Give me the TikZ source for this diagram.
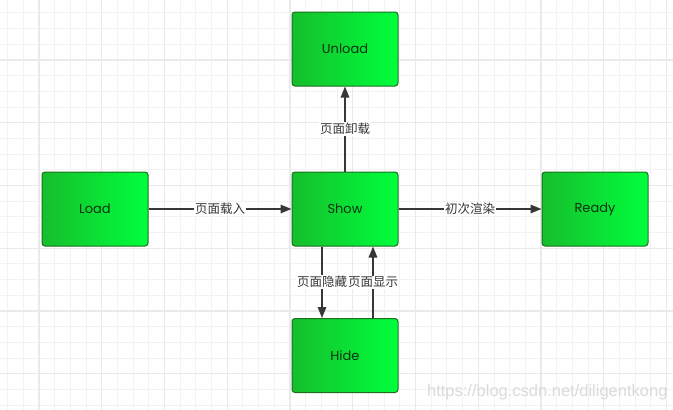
\documentclass[tikz,border=0pt]{standalone}
\usepackage{fontspec}
\setmainfont{Poppins}
\newfontfamily\cjkfont{Noto Sans CJK SC}
\newfontfamily\markfont{Liberation Sans}
\usetikzlibrary{arrows.meta}

\definecolor{boxleft}{RGB}{22,190,44}
\definecolor{boxright}{RGB}{0,255,60}
\definecolor{boxline}{RGB}{30,110,30}
\definecolor{boxtext}{RGB}{10,50,15}
\definecolor{arrowgray}{RGB}{55,55,55}
\definecolor{gridminor}{RGB}{242,242,242}
\definecolor{gridmajor}{RGB}{234,234,234}
\definecolor{markgray}{RGB}{218,218,218}

\tikzset{state/.style={draw=boxline, line width=1pt, rounded corners=3pt,
    left color=boxleft, right color=boxright, minimum width=106pt, minimum height=74pt,
    text=boxtext, font=\fontsize{13}{15}\selectfont},
%arrow between two states
trans/.style={draw=arrowgray, line width=1.5pt, -{Triangle[length=11pt,width=8.5pt]}},
translabel/.style={fill=white, inner sep=1pt, text=arrowgray, font=\cjkfont\fontsize{12.5}{14}\selectfont}}

\begin{document}
\begin{tikzpicture}[x=1pt, y=-1pt]
    \useasboundingbox (0,0) rectangle (673,410);
    \fill[white] (0,0) rectangle (673,410);
    % background grid
    \foreach \k in {-2,...,42} {
        \draw[gridminor, line width=1pt] (39+15.69*\k, 0) -- (39+15.69*\k, 410);
    }
    \foreach \k in {-4,...,22} {
        \draw[gridminor, line width=1pt] (0, 60+15.69*\k) -- (673, 60+15.69*\k);
    }
    \foreach \k in {-1,...,10} {
        \draw[gridmajor, line width=1.2pt] (39+62.75*\k, 0) -- (39+62.75*\k, 410);
    }
    \foreach \k in {-1,...,5} {
        \draw[gridmajor, line width=1.2pt] (0, 60+62.75*\k) -- (673, 60+62.75*\k);
    }

    \node[state] (unload) at (345, 49) {Unload};
    \node[state] (show) at (345, 209) {Show};
    \node[state] (load) at (95, 209) {Load};
    \node[state] (ready) at (595, 209) {Ready};
    \node[state] (hide) at (345, 355.5) {Hide};

    \draw[trans] (load) -- (show) node[pos=0.5, translabel] (l1) {页面载入};
    \draw[trans] (show) -- (unload) node[pos=0.5, translabel] (l2) {页面卸载};
    \draw[trans] (show) -- (ready) node[pos=0.5, translabel] (l3) {初次渲染};
    \draw[trans] ([xshift=-23pt]show.south) -- ([xshift=-23pt]hide.north) node[pos=0.5, translabel] (l4) {页面隐藏};
    \draw[trans] ([xshift=28pt]hide.north) -- ([xshift=28pt]show.south) node[pos=0.5, translabel] (l5) {页面显示};

    \node[anchor=east, text=markgray, font=\markfont\fontsize{16.5}{18}\selectfont] (mark) at (671, 392) {https://blog.csdn.net/diligentkong};
\end{tikzpicture}
\end{document}
